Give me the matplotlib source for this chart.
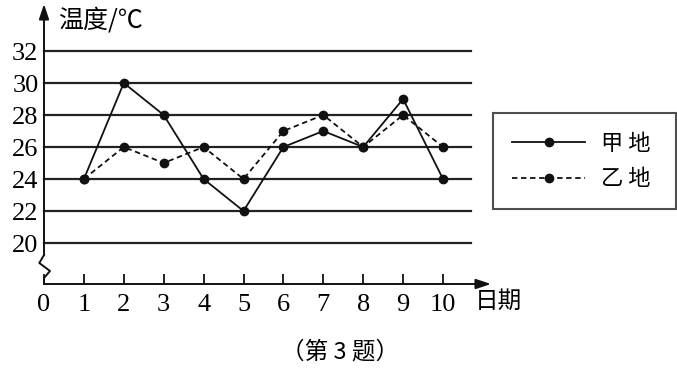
import matplotlib
matplotlib.use('Agg')
import matplotlib.pyplot as plt

days = [1, 2, 3, 4, 5, 6, 7, 8, 9, 10]
jia = [24, 30, 28, 24, 22, 26, 27, 26, 29, 24]
yi = [24, 26, 25, 26, 24, 27, 28, 26, 28, 26]
xticks = list(range(0, 11))
yticks = [20, 22, 24, 26, 28, 30, 32]
series_names = ['甲 地', '乙 地']

CJK = ['Noto Sans CJK SC', 'DejaVu Sans']
SERIF = ['Liberation Serif', 'DejaVu Serif']

# pixel layout -> data mapping
px_x0, px_per_x = 44.0, 39.9
px_y20, px_per_y = 243.0, 16.0
W, H = 677, 370
xmin = -px_x0 / px_per_x
xmax = (W - px_x0) / px_per_x
ytop = 20 + px_y20 / px_per_y
ybot = 20 - (H - px_y20) / px_per_y
y_axis = 20 - (284 - px_y20) / px_per_y


def dx(px):
    return (px - px_x0) / px_per_x


def dy(py):
    return 20 - (py - px_y20) / px_per_y


fig = plt.figure(figsize=(W / 100, H / 100), dpi=100)
ax = fig.add_axes([0, 0, 1, 1])
ax.set_xlim(xmin, xmax)
ax.set_ylim(ybot, ytop)
ax.patch.set_alpha(0)

for s in ['top', 'right', 'left', 'bottom']:
    ax.spines[s].set_visible(False)
ax.spines['bottom'].set_position(('data', y_axis))
ax.spines['left'].set_position(('data', 0))

# grid lines
for v in yticks:
    ax.plot([0, dx(471)], [v, v], color='#222222', lw=1.6, zorder=1)

# axes with arrows
ax.annotate('', xy=(dx(491), y_axis), xytext=(0, y_axis),
            arrowprops=dict(arrowstyle='-|>,head_length=0.9,head_width=0.3', color='#111111', lw=1.4, shrinkA=0, shrinkB=0))
ax.annotate('', xy=(0, dy(4)), xytext=(0, dy(255)),
            arrowprops=dict(arrowstyle='-|>,head_length=0.9,head_width=0.3', color='#111111', lw=1.4, shrinkA=0, shrinkB=0))
zig_px = [(44, 255), (39.3, 263), (50, 271), (44, 278), (44, 284)]
ax.plot([dx(p[0]) for p in zig_px], [dy(p[1]) for p in zig_px], color='#111111', lw=1.4, zorder=2)

ax.set_xticks(xticks)
ax.set_xticklabels([str(t) for t in xticks], family=SERIF, fontsize=19)
ax.set_yticks(yticks)
ax.set_yticklabels([str(t) for t in yticks], family=SERIF, fontsize=19)
ax.tick_params(axis='x', direction='in', length=7, width=1.3, color='#111111', pad=7)
ax.tick_params(axis='y', length=0, pad=4)

ax.plot(days, jia, color='#111111', lw=1.3, marker='o', ms=6, label=series_names[0], zorder=3)
ax.plot(days, yi, color='#111111', lw=1.3, ls=(0, (3, 2)), marker='o', ms=6, label=series_names[1], zorder=3)

ax.text(dx(58), dy(20), '温度/℃', family=CJK, fontsize=18, va='center', ha='left')
ax.text(dx(475), dy(301), '日期', family=CJK, fontsize=17, va='center', ha='left')
fig.text(340 / W, 1 - 352 / H, '（第 3 题）', family=CJK, fontsize=17, va='center', ha='center')

leg = ax.legend(loc='upper left', bbox_to_anchor=(493 / W, 1 - 117 / H, 183 / W, 0.01),
                bbox_transform=fig.transFigure, mode='expand', fancybox=False,
                prop={'family': CJK, 'size': 16}, handlelength=3.3, handletextpad=0.7,
                labelspacing=0.55, borderpad=0.85, borderaxespad=0)
leg.get_frame().set_edgecolor('#222222')
leg.get_frame().set_linewidth(1.5)

fig.savefig('out.png', dpi=100, facecolor='white')
